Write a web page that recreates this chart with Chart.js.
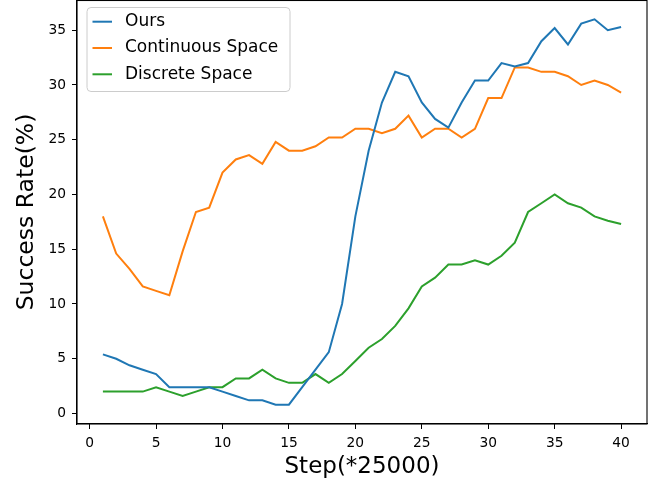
<!DOCTYPE html>
<html>
<head>
<meta charset="utf-8">
<script src="https://cdn.jsdelivr.net/npm/chart.js@4.4.1/dist/chart.umd.min.js"></script>
<style>
  html, body { margin: 0; padding: 0; background: #fff; }
  #wrap { width: 660px; height: 485px; }
</style>
</head>
<body>
<div id="wrap"><canvas id="chartSteps"></canvas></div>
<script>
// training steps (x25000)
const steps = [1, 2, 3, 4, 5, 6, 7, 8, 9, 10, 11, 12, 13, 14, 15, 16, 17, 18, 19, 20,
               21, 22, 23, 24, 25, 26, 27, 28, 29, 30, 31, 32, 33, 34, 35, 36, 37, 38, 39, 40];

const ours = [5.4, 5.0, 4.4, 4.0, 3.6, 2.4, 2.4, 2.4, 2.4, 2.0, 1.6, 1.2, 1.2, 0.8, 0.8, 2.4, 4.0, 5.6, 10.0, 18.0,
              24.0, 28.4, 31.2, 30.8, 28.4, 26.9, 26.1, 28.4, 30.4, 30.4, 32.0, 31.7, 32.0, 34.0, 35.2, 33.7, 35.6, 36.0, 35.0, 35.3];

const continuousSpace = [18.0, 14.6, 13.2, 11.6, 11.2, 10.8, 14.8, 18.4, 18.8, 22.0, 23.2, 23.6, 22.8, 24.8, 24.0, 24.0, 24.4, 25.2, 25.2, 26.0,
                         26.0, 25.6, 26.0, 27.2, 25.2, 26.0, 26.0, 25.2, 26.0, 28.8, 28.8, 31.6, 31.6, 31.2, 31.2, 30.8, 30.0, 30.4, 30.0, 29.3];

const discreteSpace = [2.0, 2.0, 2.0, 2.0, 2.4, 2.0, 1.6, 2.0, 2.4, 2.4, 3.2, 3.2, 4.0, 3.2, 2.8, 2.8, 3.6, 2.8, 3.6, 4.8,
                       6.0, 6.8, 8.0, 9.6, 11.6, 12.4, 13.6, 13.6, 14.0, 13.6, 14.4, 15.6, 18.4, 19.2, 20.0, 19.2, 18.8, 18.0, 17.6, 17.3];

const seriesNames = ['Ours', 'Continuous Space', 'Discrete Space'];
const seriesColors = ['#1f77b4', '#ff7f0e', '#2ca02c'];

const xTicks = [0, 5, 10, 15, 20, 25, 30, 35, 40];
const yTicks = [0, 5, 10, 15, 20, 25, 30, 35];

const FONT = 'DejaVu Sans';

function toPoints(values) {
    return steps.map(function (s, i) { return { x: s, y: values[i] }; });
}

// no extra room for overhanging tick labels
function noLabelPadding(scale) {
    scale.paddingTop = 0;
    scale.paddingBottom = 0;
    scale.paddingLeft = 0;
    scale.paddingRight = 0;
}

// full box around the plot area
const frame = {
    id: 'frame',
    afterDatasetsDraw: function (chart) {
        const a = chart.chartArea;
        const ctx = chart.ctx;
        ctx.save();
        ctx.strokeStyle = '#000';
        ctx.lineWidth = 1.1;
        ctx.strokeRect(a.left, a.top + 0.5, a.right - a.left, a.bottom - a.top - 0.5);
        ctx.restore();
    }
};

// legend box in the upper left corner of the plot
const boxLegend = {
    id: 'boxLegend',
    afterDraw: function (chart) {
        const a = chart.chartArea;
        const ctx = chart.ctx;
        const x0 = a.left + 10, y0 = a.top + 7.5, w = 203, h = 84, r = 4;
        ctx.save();
        ctx.beginPath();
        ctx.roundRect(x0, y0, w, h, r);
        ctx.fillStyle = 'rgba(255,255,255,0.8)';
        ctx.fill();
        ctx.strokeStyle = '#cccccc';
        ctx.lineWidth = 1;
        ctx.stroke();

        ctx.font = '17px "' + FONT + '"';
        ctx.textBaseline = 'middle';
        ctx.textAlign = 'left';
        chart.data.datasets.forEach(function (ds, i) {
            const y = y0 + 14.2 + i * 26.3;
            ctx.beginPath();
            ctx.moveTo(x0 + 5.5, y);
            ctx.lineTo(x0 + 25, y);
            ctx.strokeStyle = ds.borderColor;
            ctx.lineWidth = 2;
            ctx.stroke();
            ctx.fillStyle = '#000';
            ctx.fillText(ds.label, x0 + 38, y);
        });
        ctx.restore();
    }
};

let datasets = [ours, continuousSpace, discreteSpace].map(function (values, i) {
    return {
        label: seriesNames[i],
        data: toPoints(values),
        borderColor: seriesColors[i],
        backgroundColor: seriesColors[i],
        borderWidth: 2,
        pointRadius: 0,
        tension: 0,
        fill: false
    };
});

new Chart(document.getElementById('chartSteps'), {
    type: 'line',
    data: { datasets: datasets },
    plugins: [frame, boxLegend],
    options: {
        responsive: true,
        maintainAspectRatio: false,
        animation: false,
        layout: { padding: { left: 0, right: 13, top: 0, bottom: 0 } },
        plugins: {
            legend: { display: false },
            tooltip: { enabled: false }
        },
        scales: {
            x: {
                type: 'linear',
                min: -0.95,
                max: 41.95,
                afterBuildTicks: function (scale) {
                    scale.ticks = xTicks.map(function (v) { return { value: v }; });
                },
                afterFit: function (scale) {
                    scale.height = 61;
                    noLabelPadding(scale);
                },
                grid: { drawOnChartArea: false, drawTicks: true, tickLength: 5, color: '#000', tickWidth: 1 },
                border: { display: true, color: '#000', width: 1.1 },
                ticks: { color: '#000', padding: 6, maxRotation: 0, autoSkip: false, font: { family: FONT, size: 13.8 } },
                title: {
                    display: true,
                    text: 'Step(*25000)',
                    color: '#000',
                    font: { family: FONT, size: 23 },
                    padding: { top: 2, bottom: 4 }
                }
            },
            y: {
                type: 'linear',
                min: -0.96,
                max: 37.76,
                afterBuildTicks: function (scale) {
                    scale.ticks = yTicks.map(function (v) { return { value: v }; });
                },
                afterFit: function (scale) {
                    scale.width = 77;
                    noLabelPadding(scale);
                },
                grid: { drawOnChartArea: false, drawTicks: true, tickLength: 5, color: '#000', tickWidth: 1 },
                border: { display: true, color: '#000', width: 1.1 },
                ticks: { color: '#000', padding: 6, autoSkip: false, font: { family: FONT, size: 13.8 } },
                title: {
                    display: true,
                    text: 'Success Rate(%)',
                    color: '#000',
                    font: { family: FONT, size: 23.5 },
                    padding: { top: 13, bottom: 0 }
                }
            }
        }
    }
});
</script>
</body>
</html>
